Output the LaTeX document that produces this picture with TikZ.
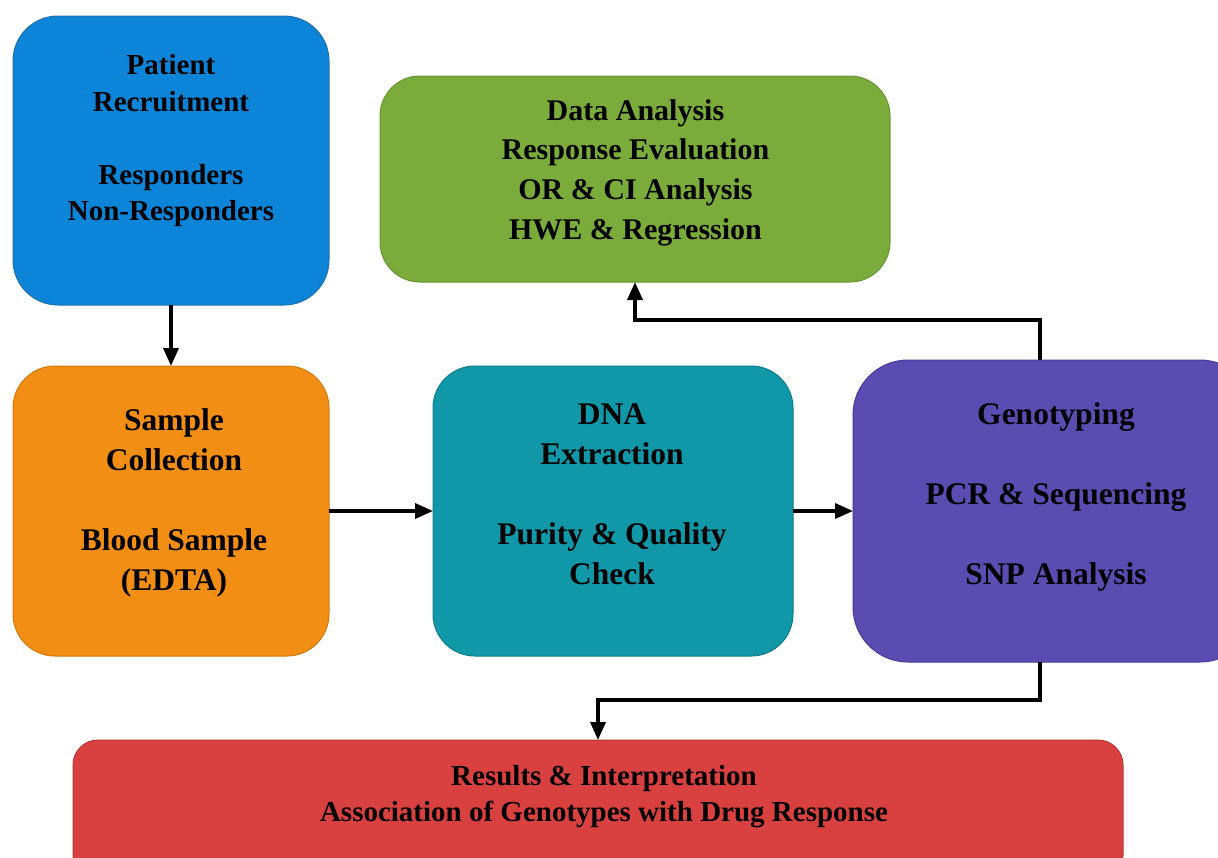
\documentclass[tikz,border=0pt]{standalone}
\usepackage{fontspec}
\setmainfont{Liberation Serif}[BoldFont={Liberation Serif Bold}]
\usetikzlibrary{arrows.meta}
\definecolor{cblue}{HTML}{0C84D8}
\definecolor{cblueD}{HTML}{1F6FA8}
\definecolor{corange}{HTML}{F28E14}
\definecolor{corangeD}{HTML}{D27A10}
\definecolor{cteal}{HTML}{1097A8}
\definecolor{ctealD}{HTML}{0E7C8A}
\definecolor{cpurple}{HTML}{5B4CB2}
\definecolor{cpurpleD}{HTML}{483B96}
\definecolor{cgreen}{HTML}{7BAB3A}
\definecolor{cgreenD}{HTML}{6A9433}
\definecolor{cred}{HTML}{D94141}
\definecolor{credD}{HTML}{B63636}
\begin{document}
\begin{tikzpicture}[x=1pt,y=-1pt,
  box/.style={draw, line width=1pt, rectangle, outer sep=0pt, inner sep=0pt},
  lbl/.style={anchor=base, inner sep=0pt, font=\bfseries},
  arr/.style={line width=3.5pt, -{Triangle[length=18pt,width=15pt]}}]
\useasboundingbox (0,0) rectangle (1218,857);
\clip (0,0) rectangle (1218,857);
\fill[white] (0,0) rectangle (1218,857);
% boxes
\node[box, fill=cblue, draw=cblueD, rounded corners=45pt, minimum width=316pt, minimum height=289pt] (blue) at (171,160.5) {};
\node[box, fill=corange, draw=corangeD, rounded corners=42pt, minimum width=316pt, minimum height=290pt] (orange) at (171,511) {};
\node[box, fill=cteal, draw=ctealD, rounded corners=42pt, minimum width=360pt, minimum height=290pt] (teal) at (613,511) {};
\node[box, fill=cpurple, draw=cpurpleD, rounded corners=55pt, minimum width=402pt, minimum height=302pt] (purple) at (1054,511) {};
\node[box, fill=cgreen, draw=cgreenD, rounded corners=40pt, minimum width=510pt, minimum height=206pt] (green) at (635,179) {};
\node[box, fill=cred, draw=credD, rounded corners=25pt, minimum width=1050pt, minimum height=140pt] (red) at (598,810) {};
% labels
\node[lbl] (bluet) at (171,74.5) {\fontsize{29}{36.5}\selectfont\begin{tabular}[t]{@{}c@{}}Patient\\Recruitment\\[36.5pt]Responders\\Non-Responders\end{tabular}};
\node[lbl] (oranget) at (174,430) {\fontsize{31.5}{40}\selectfont\begin{tabular}[t]{@{}c@{}}Sample\\Collection\\[40pt]Blood Sample\\(EDTA)\end{tabular}};
\node[lbl] (tealt) at (612,424) {\fontsize{31.5}{40}\selectfont\begin{tabular}[t]{@{}c@{}}DNA\\Extraction\\[40pt]Purity \& Quality\\Check\end{tabular}};
\node[lbl] (purplet) at (1056,424) {\fontsize{31.5}{40}\selectfont\begin{tabular}[t]{@{}c@{}}Genotyping\\[40pt]PCR \& Sequencing\\[40pt]SNP Analysis\end{tabular}};
\node[lbl] (greent) at (635.5,120) {\fontsize{30}{39.7}\selectfont\begin{tabular}[t]{@{}c@{}}Data Analysis\\Response Evaluation\\OR \& CI Analysis\\HWE \& Regression\end{tabular}};
\node[lbl] (redt) at (604,785.5) {\fontsize{29}{36}\selectfont\begin{tabular}[t]{@{}c@{}}Results \& Interpretation\\Association of Genotypes with Drug Response\end{tabular}};
% connectors
\draw[arr] (blue) -- (orange);
\draw[arr] (orange) -- (teal);
\draw[arr] (teal) -- (purple);
\coordinate (up) at (1040,320);
\coordinate (dn) at (1040,700);
\draw[arr] (purple.north -| up) -- (up) -| (green.south);
\draw[arr] (purple.south -| dn) -- (dn) -| (red.north);
\end{tikzpicture}
\end{document}
